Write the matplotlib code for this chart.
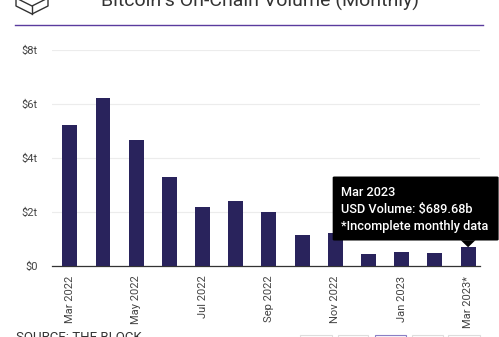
import matplotlib.pyplot as plt
from matplotlib.patches import Polygon, FancyBboxPatch, Rectangle
from matplotlib.lines import Line2D

plt.rcParams['font.family'] = ['Roboto', 'DejaVu Sans']

# Monthly on-chain volume in USD trillions
months = ["Mar 2022", "Apr 2022", "May 2022", "Jun 2022", "Jul 2022", "Aug 2022",
          "Sep 2022", "Oct 2022", "Nov 2022", "Dec 2022", "Jan 2023", "Feb 2023",
          "Mar 2023*"]
volume = [5.23, 6.20, 4.67, 3.29, 2.17, 2.40, 1.99, 1.14, 1.21, 0.44, 0.52, 0.48, 0.69]
yticks = [0, 2, 4, 6, 8]
ytick_labels = ["$0", "$2t", "$4t", "$6t", "$8t"]
tooltip_lines = ["Mar 2023", "USD Volume: $689.68b", "*Incomplete monthly data"]

bar_color = "#29235c"

fig = plt.figure(figsize=(4.99, 3.37), dpi=100)
ax = fig.add_axes([0.104, 0.211, 0.858, 0.641])

x = list(range(len(months)))
ax.bar(x, volume, width=0.45, color=bar_color, zorder=3)

ax.set_xlim(-0.54, 12.36)
ax.set_ylim(0, 8)
ax.set_yticks(yticks)
ax.set_yticklabels(ytick_labels)
ax.set_xticks(x[::2])
ax.set_xticklabels(months[::2], rotation=90, va="top", ha="center")
ax.tick_params(axis="both", length=0, labelsize=8, colors="#444444")
ax.tick_params(axis="y", pad=10)
ax.tick_params(axis="x", pad=7)
ax.grid(axis="y", color="#ececec", linewidth=0.8, zorder=0)
for s in ["top", "right", "left"]:
    ax.spines[s].set_visible(False)
ax.spines["bottom"].set_color("#333333")
ax.spines["bottom"].set_linewidth(0.9)

# tooltip over last bar
i_last = len(volume) - 1
v_last = volume[i_last]
box = FancyBboxPatch((i_last - 4.08, v_last + 0.25), 5.0, 2.37,
                     boxstyle="round,pad=0,rounding_size=0.05",
                     facecolor="black", edgecolor="none", zorder=5, clip_on=False,
                     mutation_aspect=0.8)
ax.add_patch(box)
ax.add_patch(Polygon([[i_last - 0.22, v_last + 0.26], [i_last + 0.22, v_last + 0.26],
                      [i_last, v_last]], closed=True, facecolor="black",
                     edgecolor="none", zorder=5, clip_on=False))
for k, line in enumerate(tooltip_lines):
    ax.text(i_last - 3.83, 2.57 - k * 0.62, line, color="white", fontsize=9.2,
            fontweight="medium", va="baseline", ha="left", zorder=6, clip_on=False)

# header
fig.text(0.521, 1 - 7 / 337, "Bitcoin's On-Chain Volume (Monthly)", ha="center",
         va="baseline", fontsize=14, color="#333333")
fig.add_artist(Line2D([15 / 499, 483 / 499], [1 - 25 / 337, 1 - 25 / 337],
                      color="#5a3b9e", linewidth=1.0))

# cube logo (only lower half visible)
def px(xp, yp):
    return (xp / 499, 1 - yp / 337)

logo_pts = [(16, -6), (16, 6), (32, 14), (48, 6), (48, -6)]
fig.add_artist(Line2D([px(*p)[0] for p in logo_pts], [px(*p)[1] for p in logo_pts],
                      color="#333333", linewidth=1.0))
inner = [(16, -2), (32, 6), (48, -2)]
fig.add_artist(Line2D([px(*p)[0] for p in inner], [px(*p)[1] for p in inner],
                      color="#333333", linewidth=1.0))
fig.add_artist(Line2D([px(32, 6)[0], px(32, 14)[0]], [px(32, 6)[1], px(32, 14)[1]],
                      color="#333333", linewidth=1.0))

# footer
fig.text(16 / 499, 1 - 331 / 337, "SOURCE: THE BLOCK", ha="left", va="top",
         fontsize=9.5, color="#333333")
for x0, x1, c in [(300, 332, "#dddddd"), (338, 368, "#dddddd"), (375, 406, "#8a7fc4"),
                  (412, 443, "#dddddd"), (448, 480, "#dddddd")]:
    fig.add_artist(Rectangle((x0 / 499, 0), (x1 - x0) / 499, 2 / 337,
                             facecolor="white", edgecolor=c, linewidth=0.8))

fig.savefig("out.png", dpi=100)
